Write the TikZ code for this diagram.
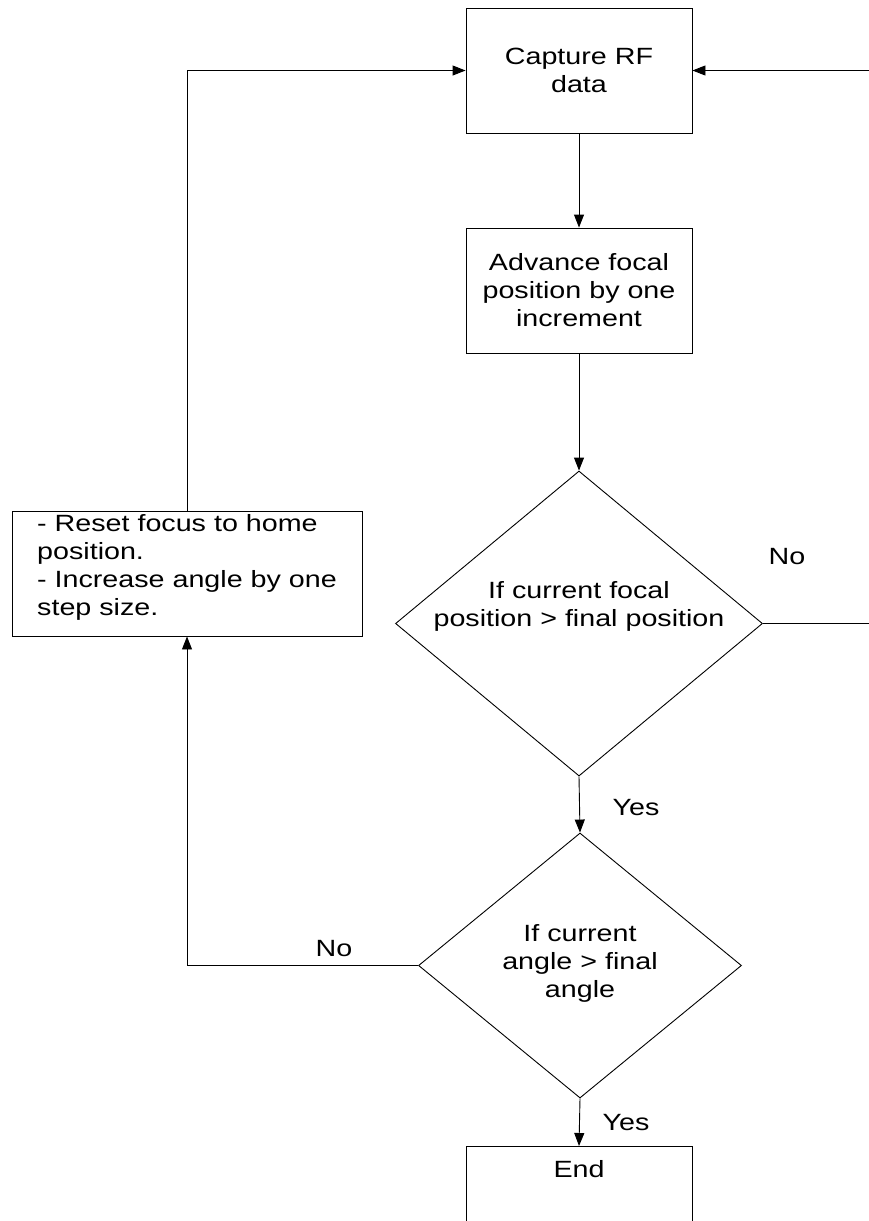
\documentclass[tikz,border=0pt]{standalone}
\usepackage{fontspec}
\setmainfont{Liberation Sans}[FakeStretch=1.22]
\usetikzlibrary{arrows.meta,shapes.geometric}
\tikzset{
  every node/.style={font=\fontsize{23.5}{28}\selectfont},
  conn/.style={draw=black, line width=0.9pt},
  arr/.style={conn, -{Triangle[length=13pt,width=10pt]}},
  procbox/.style={draw=black, line width=0.9pt, rectangle, minimum width=226pt, minimum height=125pt, inner sep=0pt, align=center},
  decision/.style={draw=black, line width=0.9pt, diamond, inner sep=0pt},
  txt/.style={inner sep=0pt, align=center},
}
\begin{document}
\begin{tikzpicture}[x=1pt,y=-1pt]
\useasboundingbox (0,0) rectangle (869,1221);
\clip (0,0) rectangle (869,1221);

\node[procbox] (cap) at (579,70.5) {Capture RF\\data};
\node[procbox] (adv) at (579,290.5) {Advance focal\\position by one\\increment};
\node[decision, minimum width=367pt, minimum height=305pt] (d1) at (579,623.5) {};
\node[txt] (d1t) at (579,606) {If current focal\\position > final position};
\node[decision, minimum width=323pt, minimum height=265pt] (d2) at (580,965.5) {};
\node[txt] (d2t) at (580,963) {If current\\angle > final\\angle};
\node[procbox, minimum width=350pt] (lb) at (187,573.5) {};
\node[txt, align=left, anchor=west] (lbt) at (37,567) {- Reset focus to home\\position.\\- Increase angle by one\\step size.};
\node[procbox, anchor=north] (end) at (579,1146) {};
\node[txt] (endt) at (579,1169) {End};

\coordinate (rc) at (880,623.5);

\draw[arr] (cap.south) -- (adv.north);
\draw[arr] (adv.south) -- (d1.north);
\draw[arr] (d1.south) -- (d2.north);
\draw[arr] (d2.south) -- (end.north);
\draw[arr] (d2.west) -| (lb.south);
\draw[arr] (lb.north) |- (cap.west);
\draw[arr] (d1.east) -- (rc) |- (cap.east);

\node[txt] (no1) at (787,557) {No};
\node[txt] (yes1) at (636,808) {Yes};
\node[txt] (no2) at (334,949) {No};
\node[txt] (yes2) at (626,1123) {Yes};
\end{tikzpicture}
\end{document}
